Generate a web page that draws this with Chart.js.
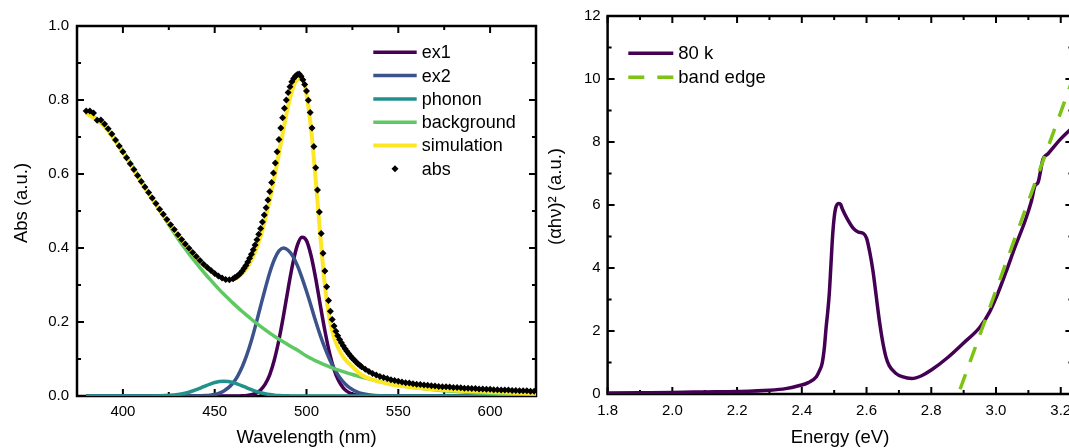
<!DOCTYPE html>
<html>
<head>
<meta charset="utf-8">
<script src="https://cdn.jsdelivr.net/npm/chart.js@4.4.1/dist/chart.umd.min.js"></script>
<style>
  html, body { margin: 0; padding: 0; background: #fff; overflow: hidden; width: 1069px; height: 448px; }
  #left { position: absolute; left: 0; top: 0; }
  #right { position: absolute; left: 540px; top: 0; }
</style>
</head>
<body>
<canvas id="left" width="545" height="448"></canvas>
<canvas id="right" width="540" height="448"></canvas>
<script>
// ---- left panel: absorption spectrum + peak fit ----
const fitNm = [380, 390, 400, 410, 420, 430, 435, 440, 442.5, 445, 447.5, 450, 452.5, 455, 457.5, 460,
  462.5, 465, 467.5, 470, 472.5, 475, 477.5, 480, 482.5, 485, 487.5, 490, 492.5, 495, 497.5, 500,
  502.5, 505, 507.5, 510, 512.5, 515, 517.5, 520, 522.5, 525, 527.5, 530, 540, 550, 560, 575, 600, 625];

const ex1 = [0, 0, 0, 0, 0, 0, 0, 0, 0, 0, 0, 0, 0, 0, 0, 0,
  0.0002, 0.0005, 0.0014, 0.0034, 0.0078, 0.0164, 0.032, 0.058, 0.098, 0.152, 0.218, 0.290, 0.357, 0.407, 0.429, 0.420,
  0.379, 0.318, 0.246, 0.177, 0.117, 0.072, 0.041, 0.022, 0.011, 0.005, 0.002, 0.001, 0, 0, 0, 0, 0, 0];

const ex2 = [0, 0, 0, 0, 0, 0, 0, 0.0003, 0.0006, 0.0012, 0.0024, 0.0044, 0.0079, 0.0136, 0.0225, 0.0356,
  0.054, 0.079, 0.111, 0.150, 0.195, 0.243, 0.290, 0.334, 0.369, 0.392, 0.400, 0.394, 0.378, 0.353, 0.320, 0.283,
  0.243, 0.202, 0.164, 0.130, 0.100, 0.075, 0.054, 0.038, 0.026, 0.0176, 0.0114, 0.0072, 0.0009, 0, 0, 0, 0, 0];

const phonon = [0, 0, 0, 0, 0.0004, 0.0038, 0.0088, 0.0171, 0.0222, 0.0274, 0.0323, 0.0364, 0.0391, 0.040, 0.0391, 0.0364,
  0.0323, 0.0274, 0.0222, 0.0171, 0.0126, 0.0088, 0.0059, 0.0038, 0.0023, 0.0013, 0.0007, 0.0004, 0, 0, 0, 0,
  0, 0, 0, 0, 0, 0, 0, 0, 0, 0, 0, 0, 0, 0, 0, 0, 0, 0];

const background = [0.770, 0.730, 0.662, 0.582, 0.502, 0.425, 0.391, 0.359, 0.3435, 0.329, 0.315, 0.301, 0.2875, 0.275, 0.263, 0.251,
  0.2395, 0.2285, 0.218, 0.2075, 0.1975, 0.188, 0.179, 0.170, 0.1615, 0.1535, 0.146, 0.1385, 0.131, 0.1245, 0.116, 0.108,
  0.1015, 0.095, 0.0895, 0.084, 0.079, 0.074, 0.070, 0.066, 0.062, 0.058, 0.0545, 0.051, 0.039, 0.029, 0.022, 0.014, 0.007, 0.003];

const simulation = [0.765, 0.728, 0.657, 0.578, 0.502, 0.433, 0.402, 0.374, 0.362, 0.350, 0.339, 0.330, 0.322, 0.316, 0.313, 0.315,
  0.321, 0.331, 0.346, 0.367, 0.396, 0.432, 0.478, 0.530, 0.590, 0.655, 0.722, 0.784, 0.831, 0.856, 0.859, 0.815,
  0.722, 0.585, 0.435, 0.300, 0.210, 0.158, 0.127, 0.106, 0.091, 0.079, 0.067, 0.057, 0.038, 0.028, 0.022, 0.016, 0.011, 0.007];

const absNm = [380, 382, 384, 386, 388, 390, 392, 394, 396, 398, 400, 402, 404, 406, 408, 410, 412, 414, 416, 418,
  420, 422, 424, 426, 428, 430, 432, 434, 436, 438, 440, 442, 444, 446, 448, 450, 452, 454, 456, 458, 460,
  461, 462, 463, 464, 465, 466, 467, 468, 469, 470, 471, 472, 473, 474, 475, 476, 477, 478, 479, 480,
  481, 482, 483, 484, 485, 486, 487, 488, 489, 490, 491, 492, 493, 494, 495, 496, 497, 498, 499, 500,
  501, 502, 503, 504, 505, 506, 507, 508, 509, 510, 511, 512, 513, 514, 515, 516, 517, 518, 519, 520,
  521, 522, 523, 524, 525, 526, 527, 528, 529, 530,
  532, 534, 536, 538, 540, 542, 544, 546, 548, 550, 552, 554, 556, 558, 560, 562, 564, 566, 568, 570,
  572, 574, 576, 578, 580, 582, 584, 586, 588, 590, 592, 594, 596, 598, 600, 602, 604, 606, 608, 610,
  612, 614, 616, 618, 620, 622, 624];

const absVal = [0.770, 0.770, 0.765, 0.745, 0.746, 0.735, 0.722, 0.708, 0.692, 0.676, 0.660, 0.644, 0.628, 0.612, 0.596, 0.580, 0.565, 0.550, 0.535, 0.520,
  0.505, 0.491, 0.477, 0.463, 0.450, 0.436, 0.423, 0.411, 0.399, 0.388, 0.377, 0.366, 0.356, 0.347, 0.339, 0.331, 0.324, 0.319, 0.315, 0.314, 0.317,
  0.320, 0.323, 0.327, 0.332, 0.338, 0.345, 0.353, 0.362, 0.372, 0.383, 0.395, 0.408, 0.422, 0.437, 0.453, 0.470, 0.489, 0.509, 0.530, 0.553,
  0.577, 0.603, 0.630, 0.660, 0.693, 0.724, 0.752, 0.778, 0.800, 0.820, 0.836, 0.849, 0.858, 0.865, 0.869, 0.870, 0.864, 0.855, 0.842, 0.824,
  0.799, 0.766, 0.724, 0.674, 0.617, 0.557, 0.497, 0.439, 0.386, 0.338, 0.295, 0.258, 0.229, 0.207, 0.189, 0.175, 0.163, 0.153, 0.144, 0.136,
  0.128, 0.121, 0.114, 0.108, 0.102, 0.097, 0.092, 0.087, 0.083, 0.079,
  0.072, 0.066, 0.061, 0.057, 0.053, 0.050, 0.047, 0.044, 0.042, 0.040, 0.038, 0.036, 0.035, 0.033, 0.032, 0.031, 0.030, 0.029, 0.028, 0.027,
  0.026, 0.025, 0.025, 0.024, 0.023, 0.023, 0.022, 0.021, 0.021, 0.020, 0.020, 0.019, 0.019, 0.018, 0.018, 0.017, 0.017, 0.016, 0.016, 0.016,
  0.015, 0.015, 0.014, 0.014, 0.014, 0.013, 0.013];

// ---- right panel: Tauc plot ----
const energy = [1.80, 1.90, 2.00, 2.10, 2.20, 2.30, 2.35, 2.39, 2.42, 2.445, 2.455, 2.463, 2.47, 2.475, 2.48, 2.485, 2.49, 2.495, 2.50, 2.505,
  2.515, 2.52, 2.525, 2.54, 2.56, 2.575, 2.59, 2.60, 2.61, 2.62, 2.63, 2.64, 2.65, 2.66, 2.67, 2.69, 2.71, 2.74, 2.77, 2.80,
  2.85, 2.90, 2.95, 2.98, 3.00, 3.03, 3.06, 3.09, 3.11, 3.12, 3.13, 3.145, 3.16, 3.20, 3.23, 3.26];
const ahv2 = [0.03, 0.04, 0.05, 0.065, 0.08, 0.12, 0.17, 0.26, 0.36, 0.55, 0.75, 0.98, 1.5, 2.1, 2.6, 3.2, 4.1, 5.0, 5.6, 5.92,
  6.05, 6.02, 5.88, 5.57, 5.25, 5.14, 5.10, 4.95, 4.5, 3.9, 3.1, 2.3, 1.65, 1.17, 0.90, 0.66, 0.55, 0.49, 0.58, 0.76,
  1.15, 1.62, 2.12, 2.6, 3.05, 3.85, 4.7, 5.5, 6.15, 6.6, 6.72, 7.45, 7.62, 8.1, 8.4, 8.7];
const edgeE = [2.889, 3.308];
const edgeV = [0.15, 12.0];

// axis ticks
const wlTicks = [400, 450, 500, 550, 600];
const absTicks = [0, 0.2, 0.4, 0.6, 0.8, 1.0];
const eTicks = [1.8, 2.0, 2.2, 2.4, 2.6, 2.8, 3.0, 3.2];
const tTicks = [0, 2, 4, 6, 8, 10, 12];

const FONT = "'Liberation Sans', Arial, sans-serif";
Chart.defaults.font.family = FONT;
Chart.defaults.color = '#000';

const pts = (xs, ys) => xs.map((x, i) => ({ x, y: ys[i] }));
// minor ticks halfway between majors (plus one beyond each end)
const minors = (t) => {
  const step = t[1] - t[0];
  return [t[0] - step / 2, ...t.map(v => v + step / 2)];
};

// frame box with inward ticks on all four sides
const framePlugin = {
  id: 'frame',
  beforeDatasetsDraw(chart, args, o) {
    const { ctx, chartArea: a } = chart;
    const x = chart.scales.x, y = chart.scales.y;
    ctx.save();
    ctx.strokeStyle = '#000';
    ctx.lineWidth = 2;
    ctx.beginPath();
    const tickX = (v, len) => {
      const p = x.getPixelForValue(v);
      if (p < a.left - 0.5 || p > a.right + 0.5) return;
      ctx.moveTo(p, a.bottom); ctx.lineTo(p, a.bottom - len);
      ctx.moveTo(p, a.top); ctx.lineTo(p, a.top + len);
    };
    const tickY = (v, len) => {
      const p = y.getPixelForValue(v);
      if (p < a.top - 0.5 || p > a.bottom + 0.5) return;
      ctx.moveTo(a.left, p); ctx.lineTo(a.left + len, p);
      ctx.moveTo(a.right, p); ctx.lineTo(a.right - len, p);
    };
    o.xMajor.forEach(v => tickX(v, 7));
    minors(o.xMajor).forEach(v => tickX(v, 4));
    o.yMajor.forEach(v => tickY(v, 7));
    minors(o.yMajor).forEach(v => tickY(v, 4));
    ctx.stroke();
    ctx.lineWidth = 2.5;
    ctx.strokeRect(a.left, a.top, a.right - a.left, a.bottom - a.top);
    ctx.restore();
  }
};

// legend inside the plot area + rotated y title sitting a bit above centre
const boxLegend = {
  id: 'boxLegend',
  afterDraw(chart, args, o) {
    const { ctx, chartArea: a } = chart;
    ctx.save();
    ctx.font = o.size + 'px ' + FONT;
    ctx.textBaseline = 'middle';
    chart.data.datasets.forEach((ds, i) => {
      const lx = a.left + o.left;
      const ly = a.top + o.top + i * o.row;
      if (ds.showLine === false) {
        const cx = lx + o.len / 2, r = ds.pointRadius;
        ctx.fillStyle = ds.backgroundColor;
        ctx.beginPath();
        ctx.moveTo(cx - r, ly); ctx.lineTo(cx, ly - r); ctx.lineTo(cx + r, ly); ctx.lineTo(cx, ly + r);
        ctx.closePath();
        ctx.fill();
      } else {
        ctx.strokeStyle = ds.borderColor;
        ctx.lineWidth = ds.borderWidth;
        ctx.setLineDash(ds.borderDash || []);
        ctx.beginPath();
        ctx.moveTo(lx, ly); ctx.lineTo(lx + o.len, ly);
        ctx.stroke();
        ctx.setLineDash([]);
      }
      ctx.fillStyle = '#000';
      ctx.fillText(ds.label, lx + o.len + o.gap, ly + 1);
    });
    // y axis title
    ctx.font = '18.5px ' + FONT;
    ctx.fillStyle = '#000';
    ctx.textAlign = 'center';
    ctx.translate(o.titleX, (a.top + a.bottom) / 2 + o.titleDy);
    ctx.rotate(-Math.PI / 2);
    ctx.fillText(o.title, 0, 0);
    ctx.restore();
  }
};

const fitLine = (label, ys, color, order, width) => ({
  label, data: pts(fitNm, ys), borderColor: color, borderWidth: width || 3.5,
  pointRadius: 0, cubicInterpolationMode: 'monotone', order
});

const noGrid = { display: false, drawTicks: false };

new Chart(document.getElementById('left'), {
  type: 'line',
  data: {
    datasets: [
      fitLine('ex1', ex1, '#440154', 6),
      fitLine('ex2', ex2, '#3b528b', 5),
      fitLine('phonon', phonon, '#21918c', 4),
      fitLine('background', background, '#5ec962', 3),
      fitLine('simulation', simulation, '#fde725', 2, 4),
      {
        label: 'abs', data: pts(absNm, absVal), showLine: false,
        pointStyle: 'rectRot', pointRadius: 3.5, pointBorderWidth: 0,
        backgroundColor: '#000', borderColor: '#000', order: 1
      }
    ]
  },
  options: {
    responsive: false, animation: false, devicePixelRatio: 1,
    layout: { padding: { top: 26, right: 9, left: 0, bottom: 0 } },
    scales: {
      x: {
        type: 'linear', min: 375, max: 625,
        grid: noGrid, border: { display: false },
        afterBuildTicks: s => { s.ticks = wlTicks.map(v => ({ value: v })); },
        afterFit: s => { s.height = 52; },
        ticks: { font: { size: 15 }, color: '#000', padding: 7, autoSkip: false, maxRotation: 0 },
        title: { display: true, text: 'Wavelength (nm)', font: { size: 18.5 }, color: '#000', padding: { top: 0, bottom: -1 } }
      },
      y: {
        min: 0, max: 1.0,
        grid: noGrid, border: { display: false },
        afterBuildTicks: s => { s.ticks = absTicks.map(v => ({ value: v })); },
        afterFit: s => { s.width = 77; },
        ticks: { font: { size: 15 }, color: '#000', padding: 8, callback: v => v.toFixed(1) }
      }
    },
    plugins: {
      legend: { display: false },
      tooltip: { enabled: false },
      frame: { xMajor: wlTicks, yMajor: absTicks },
      boxLegend: { left: 296.3, top: 26.3, row: 23.3, len: 43.4, gap: 5, size: 18,
        title: 'Abs (a.u.)', titleX: 21.5, titleDy: -8 }
    }
  },
  plugins: [framePlugin, boxLegend]
});

new Chart(document.getElementById('right'), {
  type: 'line',
  data: {
    datasets: [
      {
        label: '80 k', data: pts(energy, ahv2), borderColor: '#440154', borderWidth: 3.5,
        pointRadius: 0, cubicInterpolationMode: 'monotone', order: 2
      },
      {
        label: 'band edge', data: pts(edgeE, edgeV), borderColor: '#7cc314', borderWidth: 3.5,
        borderDash: [16, 13], pointRadius: 0, order: 1
      }
    ]
  },
  options: {
    responsive: false, animation: false, devicePixelRatio: 1,
    layout: { padding: { top: 16, right: 7.6, left: 0, bottom: 0 } },
    scales: {
      x: {
        type: 'linear', min: 1.8, max: 3.236,
        grid: noGrid, border: { display: false },
        afterBuildTicks: s => { s.ticks = eTicks.map(v => ({ value: v })); },
        afterFit: s => { s.height = 54; },
        ticks: { font: { size: 15 }, color: '#000', padding: 8, autoSkip: false, maxRotation: 0, callback: v => v.toFixed(1) },
        title: { display: true, text: 'Energy (eV)', font: { size: 18.5 }, color: '#000', padding: { top: 0, bottom: -1 } }
      },
      y: {
        min: 0, max: 12,
        grid: noGrid, border: { display: false },
        afterBuildTicks: s => { s.ticks = tTicks.map(v => ({ value: v })); },
        afterFit: s => { s.width = 67.6; },
        ticks: { font: { size: 15 }, color: '#000', padding: 7 }
      }
    },
    plugins: {
      legend: { display: false },
      tooltip: { enabled: false },
      frame: { xMajor: eTicks, yMajor: tTicks },
      boxLegend: { left: 20.7, top: 37.3, row: 24, len: 45, gap: 5, size: 18.5,
        title: '(\u03b1h\u03bd)\u00b2 (a.u.)', titleX: 16.3, titleDy: -8.5 }
    }
  },
  plugins: [framePlugin, boxLegend]
});
</script>
</body>
</html>
